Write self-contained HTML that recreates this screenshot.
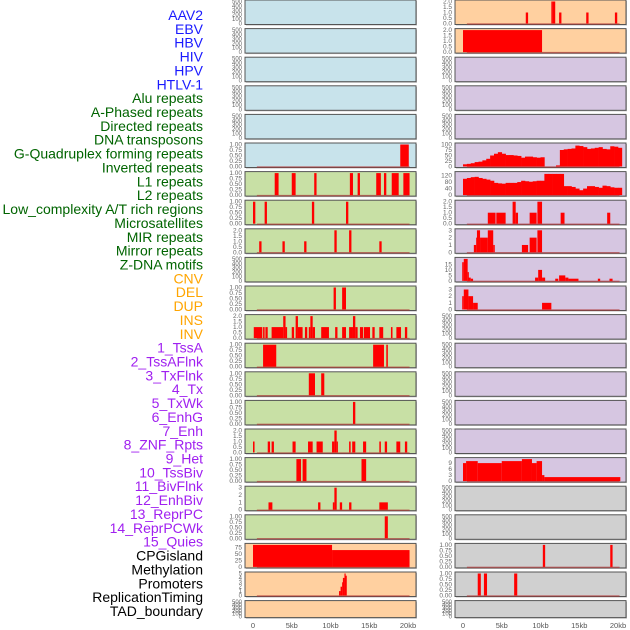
<!DOCTYPE html>
<html><head><meta charset="utf-8">
<style>
html,body{margin:0;padding:0;background:#fff;}
body{width:630px;height:630px;overflow:hidden;position:relative;font-family:"Liberation Sans",sans-serif;}
svg{position:absolute;left:0;top:0;}
</style></head>
<body>
<svg id="chart" width="630" height="630" viewBox="0 0 630 630"></svg>
<script>
const labels=["AAV2","EBV","HBV","HIV","HPV","HTLV-1","Alu repeats","A-Phased repeats","Directed repeats","DNA transposons","G-Quadruplex forming repeats","Inverted repeats","L1 repeats","L2 repeats","Low_complexity A/T rich regions","Microsatellites","MIR repeats","Mirror repeats","Z-DNA motifs","CNV","DEL","DUP","INS","INV","1_TssA","2_TssAFlnk","3_TxFlnk","4_Tx","5_TxWk","6_EnhG","7_Enh","8_ZNF_Rpts","9_Het","10_TssBiv","11_BivFlnk","12_EnhBiv","13_ReprPC","14_ReprPCWk","15_Quies","CPGisland","Methylation","Promoters","ReplicationTiming","TAD_boundary"];
const labelColors=["#1a1aff","#1a1aff","#1a1aff","#1a1aff","#1a1aff","#1a1aff","#006400","#006400","#006400","#006400","#006400","#006400","#006400","#006400","#006400","#006400","#006400","#006400","#006400","#ffa500","#ffa500","#ffa500","#ffa500","#ffa500","#a020f0","#a020f0","#a020f0","#a020f0","#a020f0","#a020f0","#a020f0","#a020f0","#a020f0","#a020f0","#a020f0","#a020f0","#a020f0","#a020f0","#a020f0","#000","#000","#000","#000","#000"];
const xTicks=[0,5,10,15,20];
const xTickLabels=["0","5kb","10kb","15kb","20kb"];
const T500=["0","100","200","300","400","500"];
const T1=["0.00","0.25","0.50","0.75","1.00"];
const T2=["0.0","0.5","1.0","1.5","2.0"];
const leftBg=["#c8e3eb","#c8e3eb","#c8e3eb","#c8e3eb","#c8e3eb","#c8e3eb","#c8e0a5","#c8e0a5","#c8e0a5","#c8e0a5","#c8e0a5","#c8e0a5","#c8e0a5","#c8e0a5","#c8e0a5","#c8e0a5","#c8e0a5","#c8e0a5","#c8e0a5","#ffd0a0","#ffd0a0","#ffd0a0"];
const rightBg=["#ffd0a0","#ffd0a0","#d6c6e1","#d6c6e1","#d6c6e1","#d6c6e1","#d6c6e1","#d6c6e1","#d6c6e1","#d6c6e1","#d6c6e1","#d6c6e1","#d6c6e1","#d6c6e1","#d6c6e1","#d6c6e1","#d6c6e1","#d0d0d0","#d0d0d0","#d0d0d0","#d0d0d0","#d0d0d0"];
const leftMax=[500,500,500,500,500,1,1,1,2,500,1,2,1,1,1,2,1,3,1,85,5,500];
const rightMax=[2,2,500,500,500,100,135,2,3,20,3.3,500,500,500,500,500,11,500,500,1,1,500];
const leftTicks=[T500,T500,T500,T500,T500,T1,T1,T1,T2,T500,T1,T2,T1,T1,T1,T2,T1,["0","1","2","3"],T1,["0","25","50","75"],["0","1","2","3","4","5"],T500];
const rightTicks=[T2,T2,T500,T500,T500,["0","25","50","75","100"],["0","40","80","120"],T2,["0","1","2","3"],["0","5","10","15"],["0","1","2","3"],T500,T500,T500,T500,T500,["0","3","6","9"],T500,T500,T1,T1,T500];
// bars: [startKb, endKb, value]
const leftBars=[[],[],[],[],[],
[[19.0,20.1,1]],
[[2.8,3.3,1],[5.0,5.5,1],[7.9,8.2,1],[12.5,12.9,1],[13.5,13.8,1],[15.9,16.5,1],[16.9,17.2,1],[17.9,18.8,1],[19.4,20.2,1]],
[[0,0.3,1],[1.5,1.8,1],[7.6,7.9,1],[12.0,12.3,1]],
[[0.8,1.1,1],[3.8,4.1,1],[6.6,6.9,1],[10.5,10.8,2],[12.4,12.7,2],[16.3,16.6,1]],
[],
[[10.4,10.7,1],[11.5,12.0,1]],
[[0.1,1.2,1],[1.3,1.5,1],[1.6,1.9,1],[2.4,3.9,1],[3.9,4.2,2],[4.2,4.4,1],[5.0,5.3,1],[5.5,5.8,2],[5.8,6.4,1],[6.7,7.0,1],[7.2,7.4,1],[7.4,7.7,2],[7.7,8.0,1],[8.8,9.8,1],[10.6,10.9,1],[11.5,12.0,1],[12.4,12.9,1],[12.9,13.2,2],[13.2,13.5,1],[13.8,14.2,1],[14.3,15.1,1],[15.4,15.7,1],[16.3,16.8,1],[17.8,18.0,1],[18.5,19.1,1],[19.6,19.9,1]],
[[1.3,3.0,1],[15.5,16.9,1],[17.2,17.4,1]],
[[7.2,8.0,1],[8.8,9.2,1]],
[[12.9,13.2,1]],
[[0,0.2,1],[1.9,2.2,1],[2.4,2.7,1],[5.1,5.5,1],[7.1,7.7,1],[8.2,9.0,1],[10.2,10.5,1],[10.5,10.8,2],[10.8,10.9,1],[12.4,12.6,1],[12.8,13.2,1],[14.2,14.6,1],[16.3,16.5,1],[17.0,17.3,1],[18.5,19.0,1],[19.6,19.9,1]],
[[5.6,6.2,1],[6.4,6.9,1],[14.0,14.6,1]],
[[2.0,2.5,1],[8.4,8.7,1],[10.3,10.5,1],[10.5,10.8,3],[11.2,11.5,1],[12.4,12.7,1],[16.3,17.4,1]],
[[17.0,17.4,1]],
[[0,10.2,85],[10.2,20.2,65]],
[[11.1,11.3,1],[11.3,11.5,2],[11.5,11.6,3],[11.6,11.8,4],[11.8,11.9,5],[11.9,12.1,4.5]],
[]];
const rightBars=[
[[8.1,8.4,1],[11.4,11.6,2],[11.6,11.9,2],[12.4,12.7,1],[15.9,16.2,1],[19.6,19.9,1]],
[[0,10.2,2]],
[],[],[],
[],
[],
[[3.2,4.2,1],[4.3,5.5,1],[6.4,6.8,2],[6.8,7.1,1],[8.6,9.5,1],[9.6,10.2,2],[12.6,13.1,1],[18.6,19.0,1]],
[[1.4,1.7,1],[1.7,1.8,2],[1.8,2.2,3],[2.2,3.2,2],[3.2,3.9,3],[3.9,4.1,1],[7.6,8.4,1],[8.6,9.5,2],[9.6,10.2,3]],
[[-0.1,0.1,17],[0.1,0.6,20],[0.6,0.7,8],[0.7,1.0,3],[1.0,1.3,2],[9.3,9.7,3],[9.7,10.2,10],[10.2,10.6,3],[11.9,12.3,2],[12.4,13.2,5],[13.2,13.6,3],[13.6,14.9,2],[17.4,17.7,2],[18.9,19.3,2]],
[[-0.1,0.1,2],[0.1,0.7,3],[0.7,1.3,2],[1.3,1.9,1],[10.2,11.4,1]],
[],[],[],[],[],
[[0,0.4,9],[0.4,1.9,10],[1.9,5.0,9],[5.0,7.6,10],[7.6,8.9,11],[8.9,9.5,9],[9.5,10.2,10],[10.2,10.5,3],[10.5,20.3,2]],
[],[],
[[10.3,10.6,1],[19.0,19.3,1]],
[[1.9,2.3,1],[2.7,3.1,1],[6.6,7.0,1]],
[]];
// binned area profiles (0.5kb bins starting at 0)
const gquadRight=[10,12,15,20,22,28,35,50,58,65,58,52,52,50,48,40,45,45,42,40,42,0,0,0,5,75,78,80,82,95,93,88,80,82,85,88,80,78,92,90,85];
const l1Right=[100,105,110,112,105,100,95,88,75,72,70,75,75,75,80,88,85,82,85,88,88,130,130,130,130,130,55,55,50,40,30,40,55,55,50,45,58,55,48,45,45];

const NS="http://www.w3.org/2000/svg";
const svg=document.getElementById('chart');
function mk(tag,attrs,parent){const e=document.createElementNS(NS,tag);for(const k in attrs)e.setAttribute(k,attrs[k]);(parent||svg).appendChild(e);return e;}
const PITCH=28.6;
function rowTop(r){return r*PITCH;}
function rowH(r){return r===21?17:24.5;}
function xScale(col,kb){return (col===0?253:463)+kb*7.75;}
function yScale(r,v,max){const t=rowTop(r),h=rowH(r);return t+h-1-(v/max)*(h-2.5);}

labels.forEach((s,i)=>{
  const t=mk('text',{x:203,y:15+i*13.86+5,'text-anchor':'end','font-size':'14',fill:labelColors[i]});
  t.textContent=s;
  
  
});

function tickVal(max,lab,i){
  if(max===85)return [0,25,50,75][i];
  if(max===135)return [0,40,80,120][i];
  if(max===20)return [0,5,10,15][i];
  if(max===3.3)return [0,1,2,3][i];
  if(max===11)return [0,3,6,9][i];
  return parseFloat(lab);
}

function drawPanel(col,r){
  const x0=col===0?245:455, w=171, t=rowTop(r), h=rowH(r);
  const g=mk('g',{});
  
  
  mk('rect',{x:x0+1,y:t+1,width:w,height:h,fill:'#bbb'},g);
  mk('rect',{x:x0,y:t,width:w,height:h,fill:col===0?leftBg[r]:rightBg[r],stroke:'#555','stroke-width':1},g);
  const max=col===0?leftMax[r]:rightMax[r];
  const ticks=col===0?leftTicks[r]:rightTicks[r];
  const n=ticks.length;
  ticks.forEach((lab,i)=>{
    const y=yScale(r,tickVal(max,lab,i),max);
    const tx=mk('text',{x:x0-3,y:y+2,'text-anchor':'end','font-size':n>5?'6':'6.5',fill:'#666'},g);
    tx.textContent=lab;
    
    
  });
  const bars=col===0?leftBars[r]:rightBars[r];
  let prof=null;
  if(col===1&&r===5)prof=gquadRight;
  if(col===1&&r===6)prof=l1Right;
  const has=bars.length>0||prof;
  if(has){
    const bl=mk('line',{x1:xScale(col,0.5),x2:xScale(col,20.2),y1:yScale(r,0,max)+0.5,y2:yScale(r,0,max)+0.5,stroke:'#b03030','stroke-width':1.5,opacity:0.6},g);
    
    
  }
  bars.forEach(b=>{
    const xa=xScale(col,b[0]),xb=xScale(col,b[1]);
    const ya=yScale(r,b[2],max),y0=yScale(r,0,max);
    const rc=mk('rect',{x:xa,y:ya,width:Math.max(1.2,xb-xa),height:y0-ya,fill:'#ff0000'},g);
    
    
  });
  if(prof){
    prof.forEach((v,k)=>{
      if(v<=0)return;
      const xa=xScale(col,k*0.5),xb=xScale(col,(k+1)*0.5);
      const ya=yScale(r,v,max),y0=yScale(r,0,max);
      const rc=mk('rect',{x:xa,y:ya,width:xb-xa+0.3,height:y0-ya,fill:'#ff0000'},g);
      
      
    });
  }
}
for(let r=0;r<22;r++){drawPanel(0,r);drawPanel(1,r);}

[0,1].forEach(col=>{
  xTicks.forEach((v,i)=>{
    const t=mk('text',{x:xScale(col,v),y:628,'text-anchor':'middle','font-size':'7.5',fill:'#555'});
    t.textContent=xTickLabels[i];
    
    
  });
});
</script>
</body></html>
